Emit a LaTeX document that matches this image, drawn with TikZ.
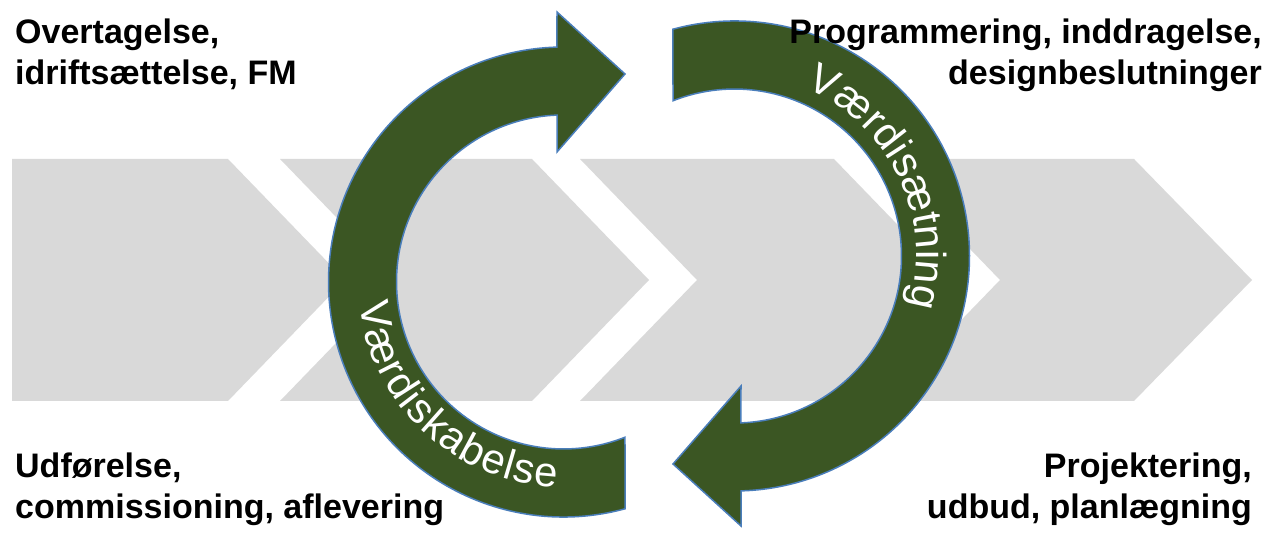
\documentclass[tikz,border=0pt]{standalone}
\usepackage{fontspec}
\setmainfont{Liberation Sans}
\usetikzlibrary{decorations.text}
\definecolor{chevgrey}{RGB}{217,217,217}
\definecolor{arrowgreen}{RGB}{59,86,35}
\definecolor{arrowedge}{RGB}{74,126,187}
\newcommand{\myCycleArrow}{%
  (563.5,256) ++(285.2:235) arc[start angle=285.2, end angle=91.6, radius=235]
  -- (557,526) -- (625,464) -- (557,386) -- (557.1,422.9)
  arc[start angle=92.2, end angle=291.6, radius=167] -- cycle}
\begin{document}
\begin{tikzpicture}[x=1pt,y=1pt,
  chevron/.style={fill=chevgrey, draw=none},
  cyclearrow/.style={fill=arrowgreen, draw=arrowedge, line width=1.5pt, line join=miter},
  phaselabel/.style={font=\bfseries\fontsize{34}{40}\selectfont, inner sep=0pt, text=black},
  arctext/.style={decorate, decoration={text along path, text color=white, text align={fit to path}, text={|\fontsize{42}{42}\selectfont|#1}}}]
\useasboundingbox (0,0) rectangle (1277,538);
% chevrons
\path[chevron] (12,379) -- (228,379) -- (345,258) -- (228,137) -- (12,137) -- cycle;
\path[chevron] (280,379) -- (532,379) -- (649,258) -- (532,137) -- (280,137) -- (397,258) -- cycle;
\path[chevron] (580,379) -- (834,379) -- (951,258) -- (834,137) -- (580,137) -- (697,258) -- cycle;
\path[chevron] (883,379) -- (1134,379) -- (1252,258) -- (1134,137) -- (883,137) -- (1000,258) -- cycle;
% circular arrows
\path[cyclearrow] \myCycleArrow;
\begin{scope}[rotate around={180:(649,269)}]
\path[cyclearrow] \myCycleArrow;
\end{scope}
% arc texts
\path[arctext=Værdiskabelse] (359.62,234.57) arc[start angle=186, end angle=268, radius=205];
\path[arctext=Værdisætning] (805.61,449.53) arc[start angle=67, end angle=-16, radius=182];
% labels
\node[phaselabel, anchor=base west] (tl1) at (15,494) {Overtagelse,};
\node[phaselabel, anchor=base west] (tl2) at (15,453) {idriftsættelse, FM};
\node[phaselabel, anchor=base east] (tr1) at (1262,494) {Programmering, inddragelse,};
\node[phaselabel, anchor=base east] (tr2) at (1262,453) {designbeslutninger};
\node[phaselabel, anchor=base west] (bl1) at (15,60) {Udførelse,};
\node[phaselabel, anchor=base west] (bl2) at (15,19) {commissioning, aflevering};
\node[phaselabel, anchor=base east] (br1) at (1252,60) {Projektering,};
\node[phaselabel, anchor=base east] (br2) at (1252,19) {udbud, planlægning};
\end{tikzpicture}
\end{document}
